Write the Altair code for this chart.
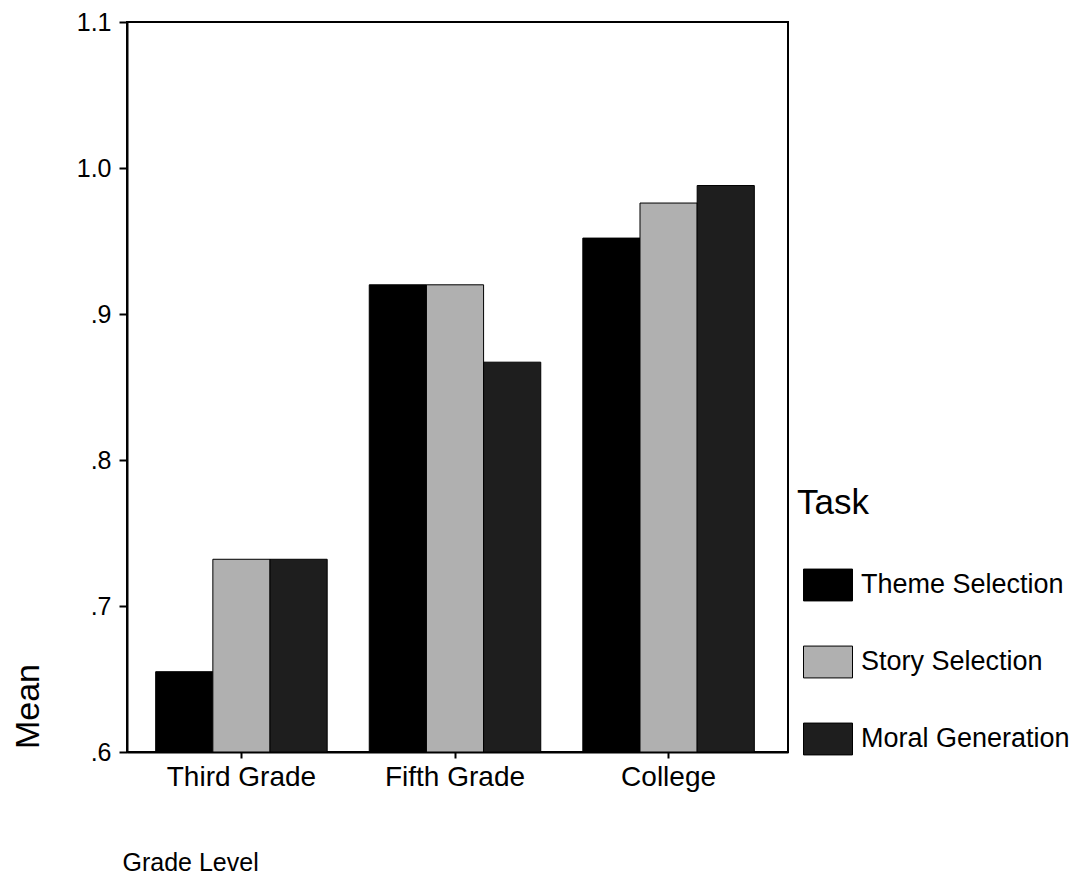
import altair as alt
import pandas as pd

grades = ["Third Grade", "Fifth Grade", "College"]
tasks = ["Theme Selection", "Story Selection", "Moral Generation"]
theme_selection = [0.655, 0.920, 0.952]
story_selection = [0.732, 0.920, 0.976]
moral_generation = [0.732, 0.867, 0.988]
y_ticks = [0.6, 0.7, 0.8, 0.9, 1.0, 1.1]
colors = ["#000000", "#b0b0b0", "#1e1e1e"]

rows = []
for series, name in zip([theme_selection, story_selection, moral_generation], tasks):
    for g, v in zip(grades, series):
        rows.append({"Grade": g, "Task": name, "Mean": v})
df = pd.DataFrame(rows)

FONT = "Liberation Sans"

chart = alt.Chart(df).mark_bar(stroke="black", strokeWidth=1).encode(
    x=alt.X(
        "Grade:N",
        sort=grades,
        scale=alt.Scale(paddingInner=0.197, paddingOuter=0.146, align=0.46),
        axis=alt.Axis(
            title="Grade Level",
            labelAngle=0,
            labelFont=FONT,
            labelFontSize=28,
            labelColor="black",
            labelPadding=5,
            tickSize=6,
            tickColor="black",
            tickWidth=2,
            domainColor="black",
            domainWidth=2,
            titleFont=FONT,
            titleFontSize=25,
            titleFontWeight="normal",
            titleColor="black",
            titleX=-5,
            titleY=118,
            titleAlign="left",
            titleBaseline="alphabetic",
        ),
    ),
    xOffset=alt.XOffset("Task:N", sort=tasks, scale=alt.Scale(paddingInner=0, paddingOuter=0)),
    y=alt.Y(
        "Mean:Q",
        scale=alt.Scale(domain=[0.6, 1.1], nice=False, zero=False),
        axis=alt.Axis(
            title="Mean",
            values=y_ticks,
            labelExpr="datum.value < 1 ? substring(format(datum.value, '.1f'), 1) : format(datum.value, '.1f')",
            labelFont=FONT,
            labelFontSize=25,
            labelColor="black",
            labelPadding=8,
            tickSize=8,
            tickColor="black",
            tickWidth=2,
            domainColor="black",
            domainWidth=2,
            grid=False,
            titleFont=FONT,
            titleFontSize=34,
            titleFontWeight="normal",
            titleColor="black",
            titleAngle=270,
            titleX=-99,
            titleY=684,
            titleAlign="center",
            titleBaseline="middle",
        ),
    ),
    y2=alt.datum(0.6),
    color=alt.Color(
        "Task:N",
        sort=tasks,
        scale=alt.Scale(domain=tasks, range=colors),
        legend=alt.Legend(
            title="Task",
            orient="none",
            legendX=670,
            legendY=464,
            padding=0,
            titleFont=FONT,
            titleFontSize=35,
            titleFontWeight="normal",
            titleColor="black",
            titlePadding=39,
            labelFont=FONT,
            labelFontSize=27,
            labelColor="black",
            labelOffset=8,
            labelLimit=0,
            symbolType="M-1,-0.65H1V0.65H-1Z",
            symbolSize=2401,
            symbolOffset=6,
            symbolStrokeColor="black",
            symbolStrokeWidth=1,
            symbolOpacity=1,
            rowPadding=34,
        ),
    ),
).properties(
    width=661,
    height=730,
    background="white",
    autosize=alt.AutoSizeParams(type="none"),
    padding={"left": 119, "top": 14, "right": 290, "bottom": 124},
).configure_view(
    stroke="black",
    strokeWidth=2,
)

chart.save("out.html", embed_options={"renderer": "svg", "actions": False})
